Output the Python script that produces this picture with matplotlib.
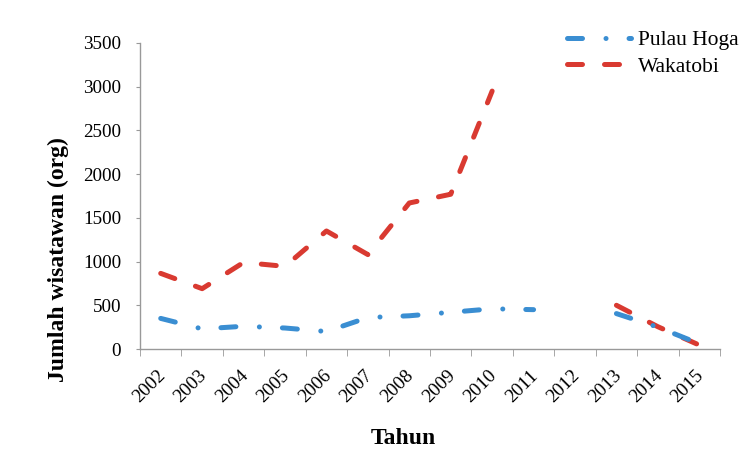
import numpy as np
import matplotlib
matplotlib.use("Agg")
import matplotlib.pyplot as plt
import matplotlib.transforms as mtransforms

years = ["2002", "2003", "2004", "2005", "2006", "2007", "2008",
         "2009", "2010", "2011", "2012", "2013", "2014", "2015"]
pulau_hoga = [350, 230, 260, 240, 200, 360, 380, 420, 460, 450, np.nan, 405, 250, 60]
wakatobi = [865, 690, 990, 945, 1350, 1080, 1670, 1770, 2950, np.nan, np.nan, 500, 255, 45]
yticks = [0, 500, 1000, 1500, 2000, 2500, 3000, 3500]

plt.rcParams['font.family'] = ['Liberation Serif', 'DejaVu Serif']

fig = plt.figure(figsize=(7.49, 4.49), dpi=100)
ax = fig.add_axes([140/749, 1-349/449, 580/749, 306/449])

x = np.arange(len(years))
lw = 3.6
ax.plot(x, wakatobi, color='#D93A31', lw=lw, dashes=(3.0, 4.4),
        dash_capstyle='round', solid_capstyle='round', label='Wakatobi')
ax.plot(x, pulau_hoga, color='#3A8ED2', lw=lw, dashes=(3.0, 4.7, 0.01, 4.6),
        dash_capstyle='round', solid_capstyle='round', label='Pulau Hoga')

ax.set_xlim(-0.5, len(years) - 0.5)
ax.set_ylim(0, 3500)
ax.set_yticks(yticks)
ax.set_yticklabels([str(v) for v in yticks], fontsize=13.8)
ax.set_xticks(x)
ax.set_xticklabels(years, rotation=45, ha='right', rotation_mode='anchor', fontsize=13.8)
ax.tick_params(axis='x', length=0, pad=13)
off = mtransforms.ScaledTranslation(-4/100, 0, fig.dpi_scale_trans)
for lab in ax.get_xticklabels():
    lab.set_transform(lab.get_transform() + off)
ax.set_xticks(np.arange(-0.5, len(years)), minor=True)
ax.tick_params(axis='x', which='minor', length=5, color='#999999', direction='out')
ax.tick_params(axis='y', length=3, color='#999999', pad=10.5)

for s in ['top', 'right']:
    ax.spines[s].set_visible(False)
for s in ['left', 'bottom']:
    ax.spines[s].set_color('#999999')
    ax.spines[s].set_linewidth(1.0)

fig.text(58/749, 1-260/449, 'Jumlah wisatawan (org)', rotation=90, fontsize=17,
         fontweight='bold', ha='center', va='center')
fig.text(403/749, 1-438/449, 'Tahun', fontsize=17, fontweight='bold',
         ha='center', va='center')

h, l = ax.get_legend_handles_labels()
leg = fig.legend(h[::-1], l[::-1], loc='upper left', bbox_to_anchor=(567/749, 1-30/449),
                 frameon=False, fontsize=15.5, handlelength=2.95, handletextpad=0.35,
                 borderpad=0, borderaxespad=0, labelspacing=0.3)

fig.savefig('out.png', dpi=100)
